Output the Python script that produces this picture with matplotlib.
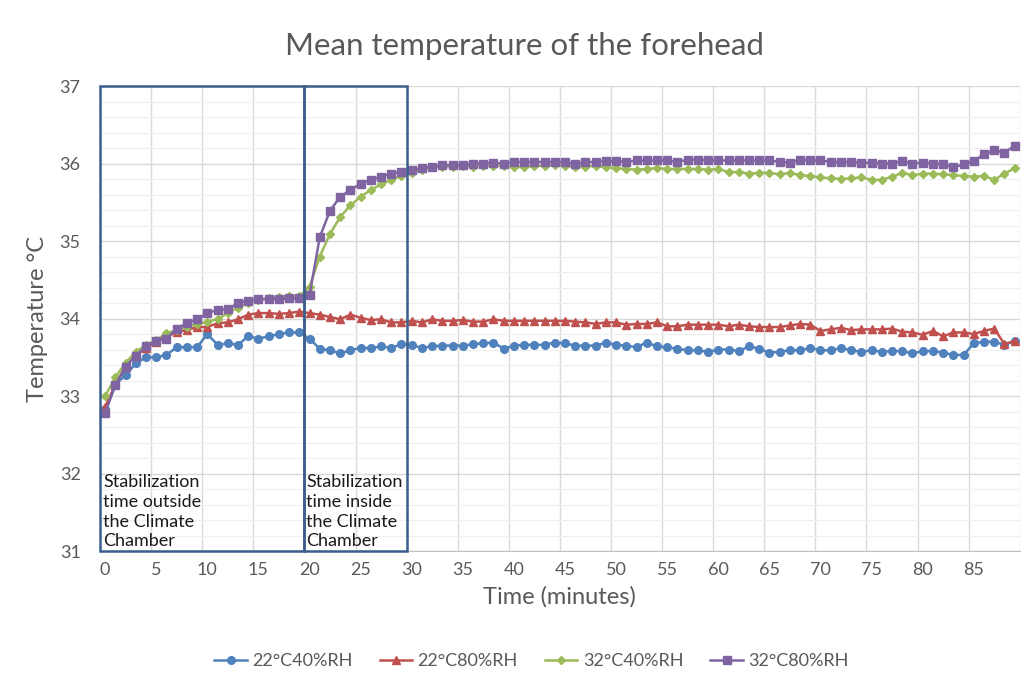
import numpy as np
import matplotlib.pyplot as plt
from matplotlib.patches import Rectangle
from matplotlib.ticker import MultipleLocator, FixedLocator

plt.rcParams['font.family'] = ['Lato', 'DejaVu Sans']

minutes = np.arange(90)

t22_40 = [32.83, 33.15, 33.27, 33.42, 33.50, 33.50, 33.53, 33.63, 33.63, 33.63,
          33.80, 33.66, 33.68, 33.66, 33.77, 33.74, 33.77, 33.80, 33.82, 33.82,
          33.74, 33.61, 33.59, 33.55, 33.59, 33.62, 33.62, 33.64, 33.62, 33.67,
          33.66, 33.62, 33.64, 33.65, 33.65, 33.65, 33.67, 33.68, 33.69, 33.61,
          33.65, 33.66, 33.66, 33.66, 33.69, 33.68, 33.65, 33.65, 33.65, 33.69,
          33.66, 33.65, 33.63, 33.69, 33.64, 33.63, 33.61, 33.59, 33.59, 33.57,
          33.60, 33.60, 33.58, 33.64, 33.61, 33.56, 33.57, 33.59, 33.59, 33.62,
          33.59, 33.59, 33.62, 33.59, 33.57, 33.59, 33.57, 33.58, 33.58, 33.55,
          33.58, 33.58, 33.56, 33.53, 33.53, 33.68, 33.70, 33.70, 33.66, 33.71]

t22_80 = [32.86, 33.15, 33.38, 33.52, 33.62, 33.70, 33.76, 33.83, 33.85, 33.89,
          33.89, 33.94, 33.95, 33.99, 34.05, 34.07, 34.07, 34.06, 34.07, 34.09,
          34.07, 34.05, 34.02, 33.99, 34.05, 34.01, 33.98, 33.99, 33.95, 33.95,
          33.97, 33.95, 33.99, 33.97, 33.97, 33.98, 33.96, 33.96, 33.99, 33.97,
          33.97, 33.97, 33.97, 33.97, 33.97, 33.97, 33.96, 33.95, 33.93, 33.95,
          33.95, 33.92, 33.93, 33.93, 33.95, 33.90, 33.90, 33.92, 33.92, 33.92,
          33.92, 33.90, 33.92, 33.90, 33.89, 33.89, 33.89, 33.91, 33.93, 33.92,
          33.84, 33.86, 33.88, 33.85, 33.86, 33.86, 33.86, 33.87, 33.83, 33.82,
          33.79, 33.84, 33.77, 33.82, 33.82, 33.80, 33.84, 33.87, 33.67, 33.71]

t32_40 = [33.00, 33.24, 33.43, 33.57, 33.66, 33.72, 33.81, 33.85, 33.89, 33.93,
          33.96, 33.99, 34.07, 34.14, 34.20, 34.24, 34.26, 34.28, 34.29, 34.29,
          34.41, 34.80, 35.09, 35.31, 35.46, 35.57, 35.66, 35.73, 35.79, 35.84,
          35.88, 35.92, 35.95, 35.96, 35.96, 35.97, 35.96, 35.97, 35.97, 35.97,
          35.96, 35.95, 35.97, 35.97, 35.98, 35.97, 35.96, 35.96, 35.97, 35.95,
          35.94, 35.93, 35.92, 35.93, 35.94, 35.93, 35.93, 35.93, 35.93, 35.92,
          35.93, 35.89, 35.89, 35.87, 35.88, 35.88, 35.86, 35.88, 35.85, 35.84,
          35.82, 35.81, 35.80, 35.81, 35.82, 35.79, 35.79, 35.83, 35.88, 35.85,
          35.87, 35.87, 35.86, 35.85, 35.84, 35.83, 35.84, 35.79, 35.87, 35.94]

t32_80 = [32.78, 33.14, 33.38, 33.52, 33.64, 33.71, 33.74, 33.87, 33.94, 33.99,
          34.07, 34.11, 34.12, 34.20, 34.23, 34.25, 34.25, 34.25, 34.26, 34.26,
          34.30, 35.05, 35.39, 35.57, 35.66, 35.74, 35.79, 35.83, 35.87, 35.89,
          35.92, 35.94, 35.96, 35.98, 35.98, 35.98, 36.00, 36.00, 36.01, 36.00,
          36.02, 36.02, 36.02, 36.02, 36.02, 36.02, 35.99, 36.02, 36.02, 36.03,
          36.03, 36.02, 36.04, 36.04, 36.04, 36.04, 36.02, 36.05, 36.05, 36.04,
          36.04, 36.04, 36.04, 36.04, 36.04, 36.04, 36.02, 36.01, 36.05, 36.04,
          36.04, 36.02, 36.02, 36.02, 36.01, 36.01, 36.00, 36.00, 36.03, 36.00,
          36.01, 36.00, 35.99, 35.95, 35.99, 36.03, 36.12, 36.17, 36.14, 36.23]

labels = ['22°C40%RH', '22°C80%RH', '32°C40%RH', '32°C80%RH']
colors = ['#4F81BD', '#C0504D', '#9BBB59', '#8064A2']
markers = ['o', '^', 'D', 's']
msizes = [5.5, 6, 4.5, 5.5]

text_gray = '#595959'
box_color = '#3B5E8C'

fig = plt.figure(figsize=(10.28, 6.8), dpi=100)
ax = fig.add_axes([0.0973, 0.1897, 0.8947, 0.6838])

for series, lab, c, mk, ms in zip([t22_40, t22_80, t32_40, t32_80], labels, colors, markers, msizes):
    ax.plot(minutes, series, color=c, marker=mk, markersize=ms, linewidth=1.8, label=lab, zorder=3)

ax.set_xlim(-0.5, 89.5)
ax.set_ylim(31, 37)

# labels on categories, gridlines between categories (Excel style)
ax.xaxis.set_major_locator(FixedLocator(np.arange(0, 90, 5)))
ax.xaxis.set_minor_locator(FixedLocator(np.arange(4.5, 90, 5)))
ax.yaxis.set_major_locator(MultipleLocator(1))
ax.yaxis.set_minor_locator(MultipleLocator(0.2))
ax.grid(which='minor', axis='x', color='#D9D9D9', linewidth=1.0)
ax.grid(which='major', axis='y', color='#D9D9D9', linewidth=1.0)
ax.grid(which='minor', axis='y', color='#EFEFEF', linewidth=0.8)
ax.set_axisbelow(True)
ax.tick_params(which='both', length=0, labelsize=13, labelcolor=text_gray)
ax.tick_params(axis='x', pad=8)
ax.tick_params(axis='y', pad=14)

for s in ['top', 'right', 'left']:
    ax.spines[s].set_visible(False)
ax.spines['bottom'].set_color('#BFBFBF')

# stabilization boxes
ax.add_patch(Rectangle((-0.5, 31), 20, 6, fill=False, edgecolor=box_color, linewidth=1.8, zorder=4, clip_on=False))
ax.add_patch(Rectangle((19.5, 31), 10, 6, fill=False, edgecolor=box_color, linewidth=1.8, zorder=4, clip_on=False))
ax.text(-0.2, 31.02, 'Stabilization\ntime outside\nthe Climate\nChamber', fontsize=13,
        va='bottom', ha='left', linespacing=1.3, color='#1A1A1A')
ax.text(19.7, 31.02, 'Stabilization\ntime inside\nthe Climate\nChamber', fontsize=13,
        va='bottom', ha='left', linespacing=1.3, color='#1A1A1A')

ax.set_title('Mean temperature of the forehead', fontsize=22.5, color=text_gray, pad=22, x=0.462)
ax.set_xlabel('Time (minutes)', fontsize=17, color=text_gray, labelpad=6)
ax.set_ylabel('Temperature °C', fontsize=17, color=text_gray, labelpad=8)

fig.legend(loc='center', bbox_to_anchor=(0.517, 0.028), ncol=4, frameon=False,
           fontsize=13, labelcolor=text_gray, handlelength=1.8, columnspacing=1.5, handletextpad=0.3)

fig.savefig('out.png', dpi=100)
